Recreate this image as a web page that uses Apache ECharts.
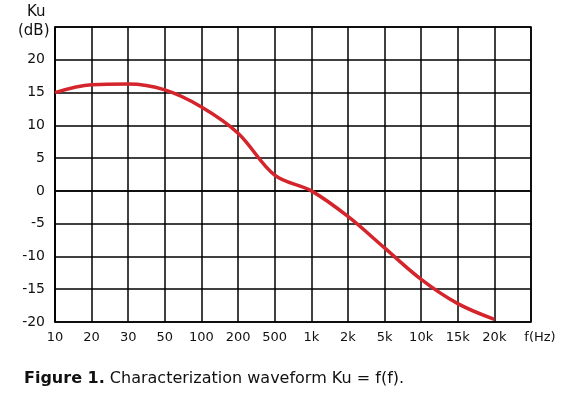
<!DOCTYPE html>
<html>
<head>
<meta charset="utf-8">
<script src="https://cdn.jsdelivr.net/npm/echarts@6/dist/echarts.min.js"></script>
<style>
  html, body { margin: 0; padding: 0; background: #fff; }
  #chart { width: 570px; height: 398px; }
</style>
</head>
<body>
<div id="chart"></div>
<script>
// frequency points (last one only carries the axis unit)
var freqLabels = ['10', '20', '30', '50', '100', '200', '500', '1k', '2k', '5k', '10k', '15k', '20k', 'f(Hz)'];
// gain Ku in dB at each frequency
var gainDb = [15, 16.2, 16.3, 15.4, 12.8, 8.8, 2.4, 0, -3.9, -8.7, -13.5, -17.2, -19.6];
var yMin = -20, yMax = 25, yStep = 5;

var myChart = echarts.init(document.getElementById('chart'));
var font = 'Verdana, "DejaVu Sans", sans-serif';

myChart.setOption({
    animation: false,
    backgroundColor: '#fff',
    grid: { left: 55, right: 39, top: 27, bottom: 76, show: true, borderColor: '#000', borderWidth: 1.5 },
    xAxis: {
        type: 'category',
        data: freqLabels,
        boundaryGap: false,
        axisLine: { lineStyle: { color: '#000', width: 1.5 } },
        axisTick: { show: false },
        axisLabel: {
            interval: 0, color: '#111', fontFamily: font, fontSize: 13, margin: 9,
            formatter: function (v, i) { return i === freqLabels.length - 1 ? '{u|' + v + '}' : v; },
            rich: { u: { fontFamily: font, fontSize: 13, color: '#111', padding: [0, 0, 0, 18] } }
        },
        splitLine: { show: true, interval: 0, lineStyle: { color: '#000', width: 1.5 } }
    },
    yAxis: {
        type: 'value',
        min: yMin, max: yMax, interval: yStep,
        axisLine: { show: true, lineStyle: { color: '#000', width: 1.5 } },
        axisTick: { show: false },
        axisLabel: {
            color: '#111', fontFamily: font, fontSize: 14, margin: 10,
            formatter: function (v) { return v === yMax ? '' : String(v); }
        },
        splitLine: { show: true, lineStyle: { color: '#000', width: 1.5 } }
    },
    series: [{
        type: 'line',
        data: gainDb,
        smooth: 0.35,
        symbol: 'none',
        lineStyle: { color: '#d4252c', width: 3.5 }
    }],
    graphic: [
        { type: 'text', left: 27, top: 5, style: { text: 'Ku', font: '15px ' + font, fill: '#111' } },
        { type: 'text', left: 18, top: 24, style: { text: '(dB)', font: '15px ' + font, fill: '#111' } },
        {
            type: 'text', left: 24, top: 371,
            style: {
                text: '{b|Figure 1.} Characterization waveform Ku = f(f).',
                font: '16px ' + font, fill: '#111',
                rich: { b: { fontWeight: 'bold', fontSize: 16, fontFamily: font } }
            }
        }
    ]
});
</script>
</body>
</html>
